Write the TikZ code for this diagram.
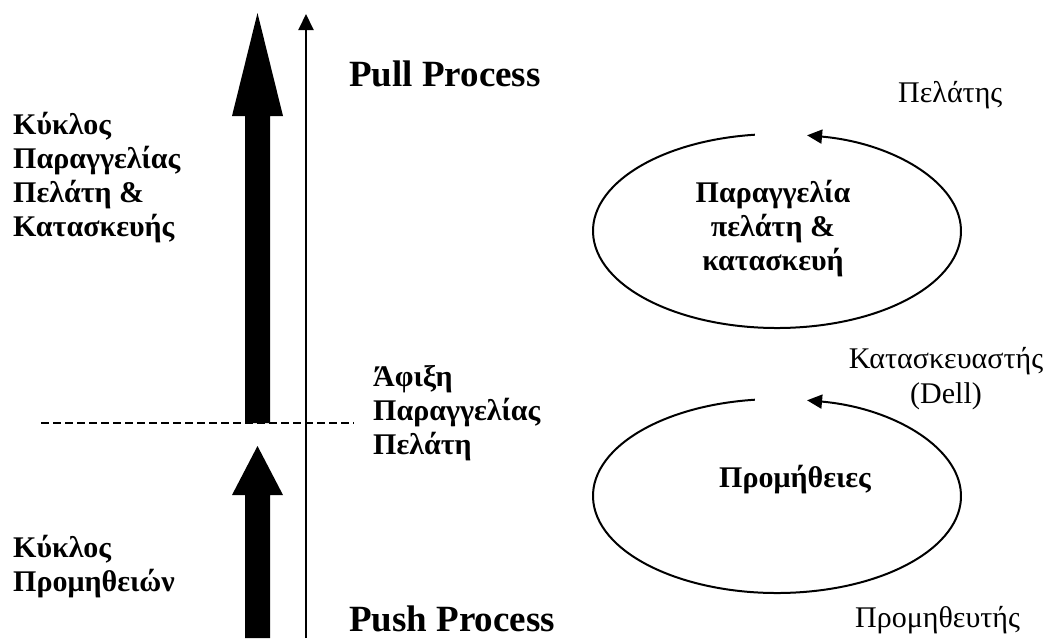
\documentclass[tikz,border=0pt]{standalone}
\usepackage{fontspec}
\setmainfont{Liberation Serif}
\usetikzlibrary{arrows.meta}
\begin{document}
\begin{tikzpicture}[x=1pt,y=-1pt,
  % multi-line nodes: the base anchor sits on the last line
  boldlbl/.style={inner sep=0pt, anchor=base west, align=left,
    font=\fontsize{30}{34}\selectfont\bfseries},
  plainlbl/.style={inner sep=0pt, anchor=base west,
    font=\fontsize{30}{35}\selectfont},
  title/.style={inner sep=0pt, anchor=base west,
    font=\fontsize{37}{44}\selectfont\bfseries},
  cyclelbl/.style={inner sep=0pt, anchor=base, align=center,
    font=\fontsize{30}{34}\selectfont\bfseries},
  cycle/.style={line width=2pt, -{Triangle[length=15pt,width=14pt]}},
  bigarrow/.style={fill=black}]
\useasboundingbox (0,0) rectangle (1048,638);

% thick arrows for the two cycles
\fill[bigarrow] (245,423) -- (245,116) -- (232,116) -- (257.5,13) -- (283,116) -- (270,116) -- (270,423) -- cycle;
\fill[bigarrow] (245,638) -- (245,495) -- (232,495) -- (257.5,446) -- (283,495) -- (270,495) -- (270,638) -- cycle;

% time axis
\coordinate (axisbot) at (306,638);
\coordinate (axistop) at (306,14);
\draw[line width=2pt, -{Triangle[length=16pt,width=15pt]}] (axisbot) -- (axistop);

% boundary between push and pull
\coordinate (dl) at (41,423);
\coordinate (dr) at (354,423);
\draw[line width=1.5pt, dash pattern=on 8pt off 4pt] (dl) -- (dr);

% cycles
\coordinate (c1) at (777,231);
\coordinate (c2) at (777,496);
\draw[cycle] (c1) ++(-96.9:184 and 97) arc[start angle=-96.9, end angle=-440.6, x radius=184, y radius=97];
\draw[cycle] (c2) ++(-96.9:184 and 97) arc[start angle=-96.9, end angle=-440.6, x radius=184, y radius=97];

% labels
\node[title] (pull) at (349,86) {Pull Process};
\node[title] (push) at (349,631) {Push Process};
\node[boldlbl] (cyc1) at (13,236) {Κύκλος\\Παραγγελίας\\Πελάτη \&\\Κατασκευής};
\node[boldlbl] (cyc2) at (13,591) {Κύκλος\\Προμηθειών};
\node[boldlbl] (arr) at (373,454) {Άφιξη\\Παραγγελίας\\Πελάτη};
\node[plainlbl] (cust) at (898,102) {Πελάτης};
\node[plainlbl, anchor=base, align=center] (manu) at (946,403) {Κατασκευαστής\\(Dell)};
\node[plainlbl] (supp) at (855,627) {Προμηθευτής};
\node[cyclelbl] (t1) at (773,270) {Παραγγελία\\πελάτη \&\\κατασκευή};
\node[cyclelbl] (t2) at (795,487) {Προμήθειες};
\end{tikzpicture}
\end{document}
